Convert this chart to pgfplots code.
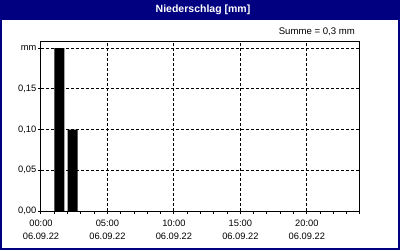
\documentclass[border=0pt]{standalone}
\usepackage{fontspec}
\setmainfont{Liberation Sans}
\usepackage{pgfplots}
\pgfplotsset{compat=1.18}
\definecolor{navy}{RGB}{0,0,128}
\begin{document}
\begin{tikzpicture}[x=1pt,y=1pt]
\fill[navy] (0,0) rectangle (400,250);
\fill[white] (2,2) rectangle (398,230);
\useasboundingbox (0,0) rectangle (400,250);
\node[text=white,font=\fontsize{10.5}{12}\selectfont\bfseries] at (203,240) {Niederschlag [mm]};
\node[anchor=base east,inner sep=0pt,font=\fontsize{9.6}{11}\selectfont] at (355,216) {Summe = 0,3 mm};
\begin{axis}[at={(41pt,39pt)}, anchor=south west, scale only axis,
  width=319pt, height=170pt,
  xmin=0, xmax=24, ymin=0, ymax=0.2087,
  xtick={0,5,10,15,20}, minor xtick={1,...,24},
  xticklabels={{00:00\\06.09.22},{05:00\\06.09.22},{10:00\\06.09.22},{15:00\\06.09.22},{20:00\\06.09.22}},
  xticklabel style={align=center, font=\fontsize{9.3}{13}\selectfont, inner sep=2pt, yshift=-4pt},
  ytick={0,0.05,0.1,0.15,0.2},
  yticklabels={{0,00},{0,05},{0,10},{0,15},mm},
  yticklabel style={font=\fontsize{9.3}{11}\selectfont, inner sep=1.5pt},
  grid=major,
  major grid style={black, line width=1pt, dash pattern=on 3pt off 2pt},
  tick align=outside, major tick length=3pt, minor tick length=3pt,
  tick style={black, line width=1pt},
  xtick pos=bottom, ytick pos=left,
  axis line style={black, line width=1pt},
  ybar, bar width=0.75,
]
\addplot[fill=black, draw=none, bar shift=0] coordinates {(1.375,0.2) (2.375,0.1)};
\end{axis}
\end{tikzpicture}
\end{document}
